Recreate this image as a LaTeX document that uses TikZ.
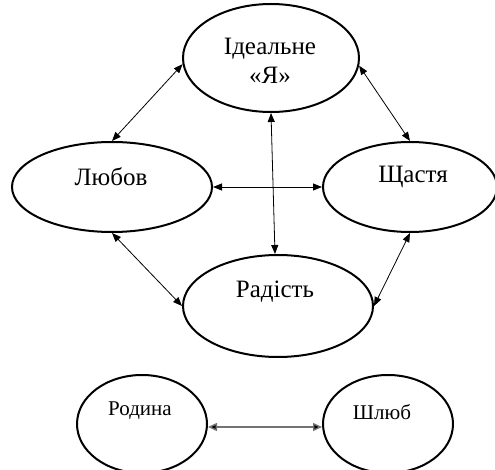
\documentclass[tikz,border=0pt]{standalone}
\usepackage{fontspec}
\setmainfont{Liberation Serif}
\usetikzlibrary{shapes.geometric,arrows.meta}
\begin{document}
\begin{tikzpicture}[x=1pt,y=-1pt,
  ell/.style={draw, ellipse, line width=2pt, inner sep=0pt},
  lbl/.style={font=\fontsize{25}{29}\selectfont, align=center, inner sep=0pt},
  slbl/.style={font=\fontsize{21}{25}\selectfont, inner sep=0pt},
  link/.style={line width=0.8pt, {Triangle[length=9pt,width=7pt]}-{Triangle[length=9pt,width=7pt]}},
  glink/.style={line width=1.4pt, draw=black!55, {Triangle[length=9pt,width=8pt,fill=black]}-{Triangle[length=9pt,width=8pt,fill=black]}},
]
\useasboundingbox[fill=white] (0,0) rectangle (495,470);
% ellipses
\node[ell, minimum width=176pt, minimum height=108pt] (ideal) at (271,58) {};
\node[ell, minimum width=200pt, minimum height=90pt] (lyub) at (112,187) {};
\node[ell, minimum width=174pt, minimum height=90pt] (shch) at (410,187) {};
\node[ell, minimum width=190pt, minimum height=102pt] (rad) at (278,306) {};
\node[ell, minimum width=130pt, minimum height=98pt] (rod) at (142,424) {};
\node[ell, minimum width=130pt, minimum height=98pt] (shl) at (388,424) {};
% labels
\node[lbl] (tideal) at (270,61) {Ідеальне\\«Я»};
\node[lbl] (tlyub) at (111,177) {Любов};
\node[lbl] (tshch) at (413,177) {Щастя};
\node[lbl] (trad) at (275,292) {Радість};
\node[slbl] (trod) at (140,411) {Родина};
\node[slbl] (tshl) at (382,412) {Шлюб};
% connectors
\draw[link] (lyub.north) -- (ideal.184);
\draw[link] (ideal.-5) -- (shch.north);
\draw[link] (lyub.east) -- (shch.west);
\draw[link] (ideal.south) -- ([xshift=-3pt]rad.north);
\draw[link] (lyub.south) -- (rad.west);
\draw[link] (shch.south) -- (rad.east);
\draw[glink] ([yshift=-3pt]rod.east) -- ([yshift=-3pt]shl.west);
\end{tikzpicture}
\end{document}
